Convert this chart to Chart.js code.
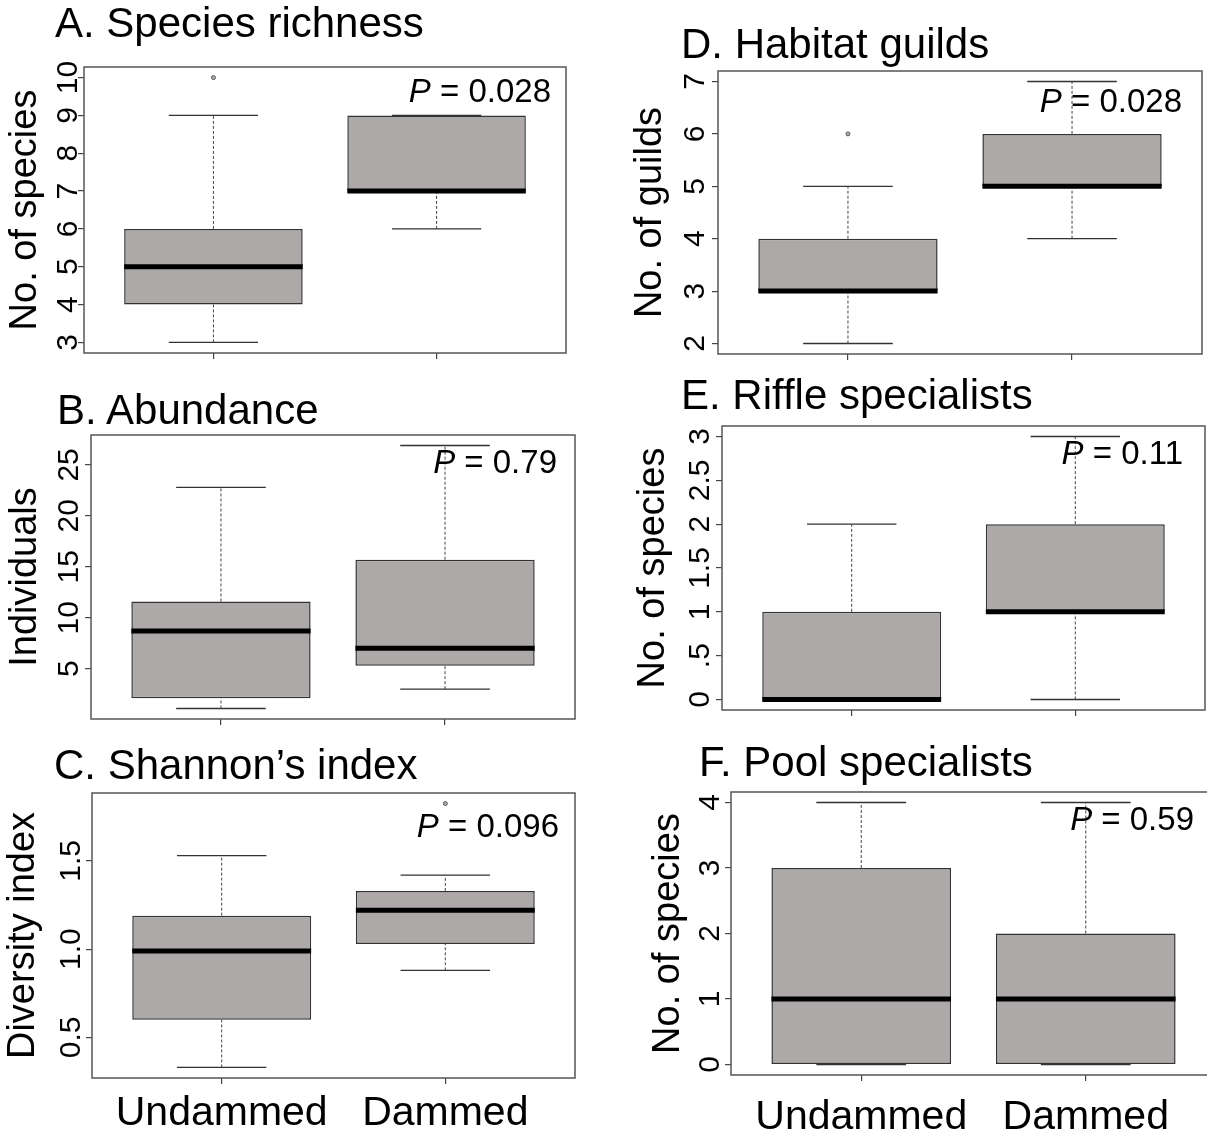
<!DOCTYPE html>
<html>
<head>
<meta charset="utf-8">
<script src="https://cdn.jsdelivr.net/npm/chart.js@4.4.1/dist/chart.umd.min.js"></script>
<style>
html, body { margin:0; padding:0; background:#fff; overflow:hidden; width:1207px; height:1137px; }
.holder { position:absolute; }
.txt { position:absolute; font-family:'Liberation Sans', Arial, Helvetica, sans-serif; color:#000; white-space:nowrap; line-height:1; }
</style>
</head>
<body>
<script>
// ---------------- DATA ----------------
const groups = ['Undammed', 'Dammed'];
// five-number summaries per group: [lower whisker, Q1, median, Q3, upper whisker]
const richnessBox = [[3, 4, 5, 6, 9], [6, 7, 7, 9, 9]];
const richnessOut = [[10], []];
const richnessTicks = [3, 4, 5, 6, 7, 8, 9, 10];
const richnessTickLabels = ['3', '4', '5', '6', '7', '8', '9', '10'];

const abundanceBox = [[1.1, 2.1, 8.7, 11.6, 22.8], [3, 5.3, 7, 15.7, 26.9]];
const abundanceOut = [[], []];
const abundanceTicks = [5, 10, 15, 20, 25];
const abundanceTickLabels = ['5', '10', '15', '20', '25'];

const shannonBox = [[0.33, 0.60, 0.99, 1.19, 1.53], [0.88, 1.03, 1.22, 1.33, 1.42]];
const shannonOut = [[], [1.825]];
const shannonTicks = [0.5, 1.0, 1.5];
const shannonTickLabels = ['0.5', '1.0', '1.5'];

const guildsBox = [[2, 3, 3, 4, 5], [4, 5, 5, 6, 7]];
const guildsOut = [[6], []];
const guildsTicks = [2, 3, 4, 5, 6, 7];
const guildsTickLabels = ['2', '3', '4', '5', '6', '7'];

const riffleBox = [[0, 0, 0, 1, 2], [0, 1, 1, 2, 3]];
const riffleOut = [[], []];
const riffleTicks = [0, 0.5, 1, 1.5, 2, 2.5, 3];
const riffleTickLabels = ['0', '.5', '1', '1.5', '2', '2.5', '3'];

const poolBox = [[0, 0, 1, 3, 4], [0, 0, 1, 2, 4]];
const poolOut = [[], []];
const poolTicks = [0, 1, 2, 3, 4];
const poolTickLabels = ['0', '1', '2', '3', '4'];

const panelTitles = ['A. Species richness', 'B. Abundance', 'C. Shannon\u2019s index',
                     'D. Habitat guilds', 'E. Riffle specialists', 'F. Pool specialists'];
const yTitles = ['No. of species', 'Individuals', 'Diversity index',
                 'No. of guilds', 'No. of species', 'No. of species'];
const pValues = ['0.028', '0.79', '0.096', '0.028', '0.11', '0.59'];

// ---------------- LAYOUT (positions only) ----------------
// fl/ft/fw/fh: plot frame; ytc: y-title centre x; tlc: tick label centre x;
// tx/tb: panel title left/baseline; pr/pb: P-text right/baseline; xb: x label baseline
const layout = [
  {fl:84,  ft:67,  fw:483, fh:286, ytc:26,  tlc:69,  tx:55,  tb:38,  pr:551,  pb:102, showX:false},
  {fl:91,  ft:435, fw:484, fh:284, ytc:26,  tlc:70,  tx:57,  tb:425, pr:557,  pb:473, showX:false},
  {fl:92,  ft:793, fw:484, fh:285, ytc:24,  tlc:72,  tx:54,  tb:780, pr:559,  pb:837, showX:true, xb:1128},
  {fl:718, ft:71,  fw:485, fh:283, ytc:651, tlc:696, tx:681, tb:59,  pr:1182, pb:112, showX:false},
  {fl:722, ft:426, fw:483, fh:284, ytc:654, tlc:701, tx:681, tb:410, pr:1183, pb:464, showX:false},
  {fl:731, ft:792, fw:485, fh:283, ytc:669, tlc:711, tx:699, tb:777, pr:1194, pb:830, showX:true, xb:1132}
];

const panelData = [
  [richnessBox, richnessOut, richnessTicks, richnessTickLabels],
  [abundanceBox, abundanceOut, abundanceTicks, abundanceTickLabels],
  [shannonBox, shannonOut, shannonTicks, shannonTickLabels],
  [guildsBox, guildsOut, guildsTicks, guildsTickLabels],
  [riffleBox, riffleOut, riffleTicks, riffleTickLabels],
  [poolBox, poolOut, poolTicks, poolTickLabels]
];

// ---------------- STYLE ----------------
const FONT = "'Liberation Sans', Arial, Helvetica, sans-serif";
const TICK_FONT = 30, YTITLE_FONT = 38, XLAB_FONT = 41, TITLE_FONT = 42, P_FONT = 33;
const TL = 6;
const BOX_FILL = '#ADA9A8', BOX_EDGE = '#333333', FRAME = '#555555';

Chart.defaults.font.family = FONT;
Chart.defaults.color = '#000';
Chart.defaults.animation = false;

function measureWidest(labels, size) {
  const c = document.createElement('canvas').getContext('2d');
  c.font = size + 'px ' + FONT;
  return Math.max(...labels.map(l => c.measureText(l).width));
}

const framePlugin = {
  id: 'frame',
  afterDraw(chart) {
    const a = chart.chartArea, ctx = chart.ctx;
    ctx.save();
    ctx.strokeStyle = FRAME;
    ctx.lineWidth = 1.5;
    ctx.strokeRect(a.left, a.top, a.right - a.left, a.bottom - a.top);
    ctx.restore();
  }
};

function addText(html, left, baseline, size, rightAlign) {
  const d = document.createElement('div');
  d.className = 'txt';
  d.style.fontSize = size + 'px';
  d.style.top = (baseline - 0.8465 * size) + 'px';
  d.style.left = left + 'px';
  if (rightAlign) d.style.transform = 'translateX(-100%)';
  d.innerHTML = html;
  document.body.appendChild(d);
}

function zeroPad(s) { s.paddingLeft = 0; s.paddingRight = 0; s.paddingTop = 0; s.paddingBottom = 0; }

function makePanel(idx) {
  const L = layout[idx];
  const [box, out, ticks, tickLabels] = panelData[idx];
  const AXW = 110, PADT = 30, PADR = 4;
  const XH = L.showX ? 80 : 14;
  const cw = AXW + L.fw + PADR, ch = PADT + L.fh + XH;
  const left = L.fl - AXW, top = L.ft - PADT;

  const holder = document.createElement('div');
  holder.className = 'holder';
  holder.style.left = left + 'px';
  holder.style.top = top + 'px';
  holder.style.width = cw + 'px';
  holder.style.height = ch + 'px';
  const cv = document.createElement('canvas');
  cv.width = cw; cv.height = ch;
  cv.style.width = cw + 'px'; cv.style.height = ch + 'px';
  holder.appendChild(cv);
  document.body.appendChild(holder);

  // R-style axis range: data range extended by 4% on each side
  const all = box.flat().concat(out.flat());
  const lo = Math.min(...all), hi = Math.max(...all);
  const ext = (hi - lo) * 0.04;

  const boxData = [], whisk = [], caps = [], meds = [], outs = [];
  box.forEach((s, i) => {
    const g = i + 1;
    boxData.push({x: g, y: [s[1], s[3]]});
    whisk.push({x: g, y: s[3]}, {x: g, y: s[4]}, {x: g, y: null},
               {x: g, y: s[0]}, {x: g, y: s[1]}, {x: g, y: null});
    caps.push({x: g - 0.2, y: s[4]}, {x: g + 0.2, y: s[4]}, {x: g, y: null},
              {x: g - 0.2, y: s[0]}, {x: g + 0.2, y: s[0]}, {x: g, y: null});
    meds.push({x: g - 0.4, y: s[2]}, {x: g + 0.4, y: s[2]}, {x: g, y: null});
    out[i].forEach(v => outs.push({x: g, y: v}));
  });

  const widest = measureWidest(tickLabels, TICK_FONT);
  const yPad = L.fl - L.tlc - TL - widest / 2;
  const yTitlePad = L.ytc - left - YTITLE_FONT / 2;
  const xPad = L.showX ? (L.xb - (L.ft + L.fh)) - TL - 0.6 * XLAB_FONT - 0.3465 * XLAB_FONT : 0;

  new Chart(cv, {
    type: 'bar',
    data: {
      datasets: [
        {type: 'line', data: meds, borderColor: '#000', borderWidth: 5, borderCapStyle: 'butt',
         pointRadius: 0, order: 0},
        {type: 'line', data: outs, showLine: false, pointRadius: 2, pointStyle: 'circle',
         pointBackgroundColor: '#b0b0b0', pointBorderColor: '#555', pointBorderWidth: 1, order: 0},
        {type: 'bar', data: boxData, backgroundColor: BOX_FILL, borderColor: BOX_EDGE, borderWidth: 1.5,
         borderSkipped: false, barPercentage: 1, categoryPercentage: 0.8, order: 1},
        {type: 'line', data: whisk, borderColor: '#444', borderWidth: 1, borderDash: [3, 2],
         pointRadius: 0, order: 2},
        {type: 'line', data: caps, borderColor: '#333', borderWidth: 1.3, pointRadius: 0, order: 2}
      ]
    },
    options: {
      responsive: false,
      devicePixelRatio: 1,
      animation: false,
      layout: {padding: {top: PADT, right: PADR, left: 0, bottom: 0}},
      plugins: {legend: {display: false}, tooltip: {enabled: false}},
      scales: {
        x: {
          type: 'linear', min: 0.42, max: 2.58, offset: false,
          afterBuildTicks: s => { s.ticks = [{value: 1}, {value: 2}]; },
          afterFit: s => { s.height = XH; zeroPad(s); },
          grid: {drawOnChartArea: false, drawTicks: true, tickLength: TL, color: '#444', lineWidth: 1.2, offset: false},
          border: {display: false},
          ticks: {
            autoSkip: false, maxRotation: 0, minRotation: 0, padding: xPad,
            font: {size: XLAB_FONT},
            callback: v => (L.showX ? groups[v - 1] : '')
          }
        },
        y: {
          type: 'linear', min: lo - ext, max: hi + ext,
          afterBuildTicks: s => { s.ticks = ticks.map(v => ({value: v})); },
          afterFit: s => { s.width = AXW; zeroPad(s); },
          grid: {drawOnChartArea: false, drawTicks: true, tickLength: TL, color: '#444', lineWidth: 1.2},
          border: {display: false},
          ticks: {
            autoSkip: false, minRotation: 90, maxRotation: 90, crossAlign: 'center',
            padding: yPad, font: {size: TICK_FONT},
            callback: (v, i) => tickLabels[i]
          },
          title: {display: true, text: yTitles[idx], font: {size: YTITLE_FONT, lineHeight: 1},
                  padding: {top: yTitlePad, bottom: 0}}
        }
      }
    },
    plugins: [framePlugin]
  });

  addText(panelTitles[idx], L.tx, L.tb, TITLE_FONT, false);
  addText('<i>P</i> = ' + pValues[idx], L.pr, L.pb, P_FONT, true);
}

for (let i = 0; i < 6; i++) makePanel(i);
</script>
</body>
</html>
